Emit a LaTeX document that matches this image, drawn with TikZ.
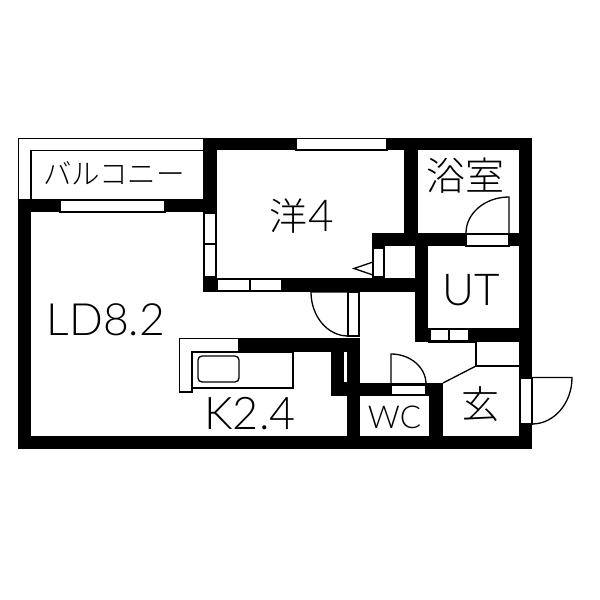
\documentclass[tikz,border=0pt]{standalone}
\usepackage{fontspec}
\setmainfont{Lato Light}
\newfontfamily\jpfont{Noto Sans CJK JP Light}
\tikzset{
	wall/.style={fill=black},
	pane/.style={fill=white,draw=black,line width=1.2pt},
	thin/.style={draw=black,line width=1.3pt},
	label/.style={inner sep=0pt,text=black},
}
\begin{document}
\begin{tikzpicture}[x=1pt,y=-1pt]
	\useasboundingbox (0,0) rectangle (600,600);
	% balcony
	\draw [thin] (18.5,199) -- (18.5,138.5) -- (204,138.5);
	\draw [thin] (31,199) -- (31,150.5) -- (204,150.5);
	% walls
	\fill [wall] (203,138) rectangle (532,150);
	\fill [wall] (18,199) rectangle (217,212);
	\fill [wall] (18,199) rectangle (31,449);
	\fill [wall] (18,436) rectangle (532,449);
	\fill [wall] (519,138) rectangle (532,449);
	\fill [wall] (203,138) rectangle (217,292);
	\fill [wall] (203,278) rectangle (428,292);
	\fill [wall] (404,138) rectangle (418,246);
	\fill [wall] (372,233) rectangle (519,246);
	\fill [wall] (372,233) rectangle (385,278);
	\fill [wall] (415,233) rectangle (428,342);
	\fill [wall] (415,328) rectangle (532,342);
	\fill [wall] (238,338) rectangle (360,352);
	\fill [wall] (331,338) rectangle (360,396);
	\fill [wall] (347,338) rectangle (360,449);
	\fill [wall] (347,383) rectangle (443,396);
	\fill [wall] (429,383) rectangle (443,449);
	% windows
	\draw [pane] (60,200) rectangle (165,212);
	\draw [pane] (296,138.5) rectangle (387,150);
	\draw [pane] (204,213) rectangle (216,244);
	\draw [pane] (204,244) rectangle (216,277);
	\draw [pane] (217,279) rectangle (250,291);
	\draw [pane] (250,279) rectangle (282,291);
	\draw [pane] (373,248) rectangle (384,277);
	\fill [white] (385,247) rectangle (414,278);
	\draw [pane] (466,234) rectangle (509,246);
	\draw [pane] (430,329) rectangle (449,341);
	\draw [pane] (449,329) rectangle (469,341);
	\draw [pane] (391,385) rectangle (426,395);
	\draw [pane] (520,378) rectangle (532,424);
	\fill [white] (344,352) rectangle (347,382);
	% doors
	\draw [pane] (348,292) rectangle (359,336);
	\draw [thin] (509,233) -- (509,197) arc (270:180:43 and 36);
	\draw [thin] (348,336) arc (90:180:37 and 44) -- (348,292);
	\draw [thin] (391,385) -- (391,354) arc (-90:0:35 and 30);
	\draw [thin] (521,377.5) -- (572,377.5) arc (0:90:40 and 46.5) -- (532,377.5);
	% entrance step
	\draw [thin] (428,342.5) -- (476,342.5) -- (476,366) -- (519,366);
	\draw [thin] (476,366) -- (443,383);
	% closet mark
	\draw [thin] (373,262) -- (354,268.5) -- (373,275);
	% kitchen
	\draw [thin] (238,338.5) -- (179.5,338.5) -- (179.5,392) -- (192,392) -- (192,352) -- (238,352);
	\draw [thin] (192,388) -- (293,388) -- (293,352) -- (238,352);
	\draw [thin,rounded corners=4pt] (198,356) rectangle (239,382);
	% labels
	\node [label,font=\jpfont\fontsize{28.5}{28}\selectfont] (balcony) at (114,173) {バルコニー};
	\node [label,font=\jpfont\fontsize{38}{38}\selectfont] (western) at (288,216) {洋};
	\node [label,font=\fontsize{44}{44}\selectfont] (westernarea) at (321.5,216) {4};
	\node [label,font=\jpfont\fontsize{39}{39}\selectfont] (bath) at (465.5,176) {浴室};
	\node [label,font=\fontsize{44}{44}\selectfont] (ut) at (471.5,290) {UT};
	\node [label,font=\fontsize{44.5}{44}\selectfont] (ld) at (106,320) {LD8.2};
	\node [label,font=\fontsize{45}{45}\selectfont] (k) at (250,414) {K2.4};
	\node [label,font=\fontsize{31.5}{31}\selectfont] (wc) at (394.5,417) {WC};
	\node [label,font=\jpfont\fontsize{38}{38}\selectfont] (entrance) at (480,404) {玄};
\end{tikzpicture}
\end{document}
